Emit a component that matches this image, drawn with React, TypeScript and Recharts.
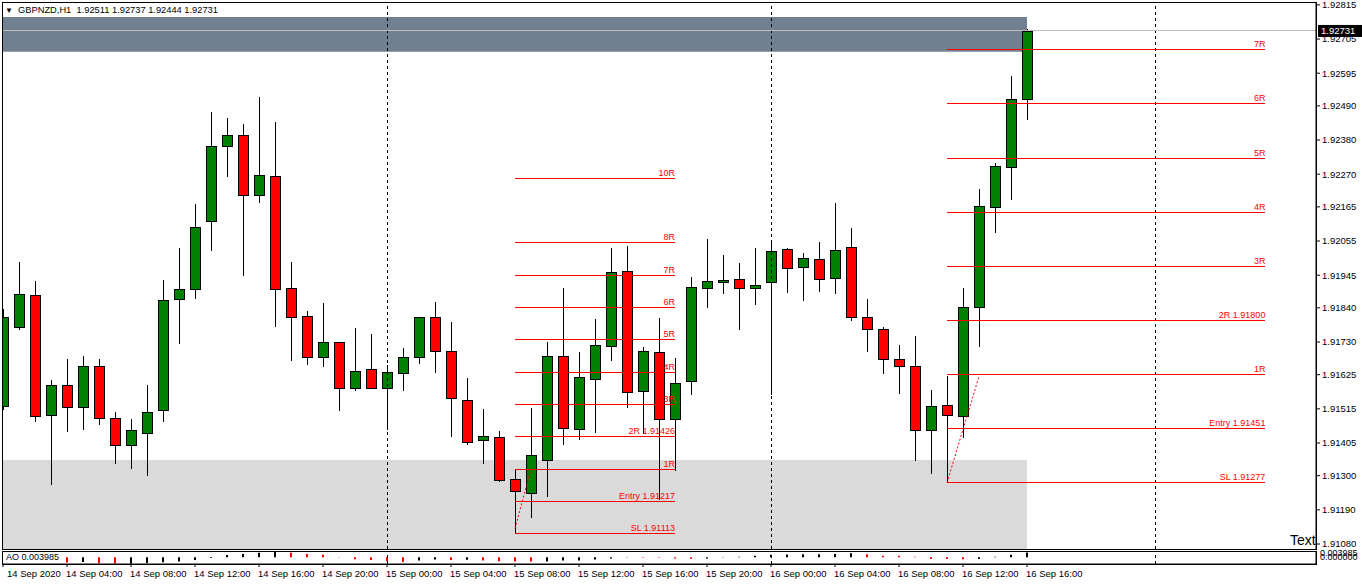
import React from "react";
import {
  ComposedChart,
  Bar,
  Cell,
  XAxis,
  YAxis,
  ReferenceLine,
  ReferenceArea,
} from "recharts";

const FONT = "'Liberation Sans', Arial, sans-serif";
const GREEN = "#008000";
const RED = "#FF0000";

const symbol = "GBPNZD,H1";

// H1 bars, 14 Sep 2020 00:00 -> 16 Sep 2020 16:00
const opens = [
  1.91524, 1.91778, 1.9188, 1.91495, 1.91593, 1.9152, 1.91654, 1.91485, 1.91398, 1.91437,
  1.9151, 1.91869, 1.91902, 1.92119, 1.9236, 1.92395, 1.92203, 1.92263, 1.91905, 1.91814,
  1.91681, 1.91731, 1.91581, 1.91642, 1.91581, 1.91629, 1.91683, 1.91809, 1.917, 1.91545,
  1.91414, 1.91424, 1.91289, 1.91244, 1.9135, 1.91686, 1.91449, 1.9161, 1.91718, 1.91959,
  1.91572, 1.91699, 1.91481, 1.91604, 1.91905, 1.91924, 1.91934, 1.91905, 1.91924, 1.9203,
  1.91972, 1.91998, 1.91937, 1.92037, 1.91809, 1.91773, 1.91677, 1.91654, 1.91446, 1.91526,
  1.91492, 1.91844, 1.92165, 1.92293, 1.92511,
];
const highs = [
  1.91835, 1.91987, 1.91928, 1.91607, 1.91675, 1.91684, 1.91675, 1.91505, 1.91482, 1.91591,
  1.91931, 1.92031, 1.92175, 1.92469, 1.92451, 1.92432, 1.92518, 1.92437, 1.91987, 1.91831,
  1.91855, 1.91731, 1.91774, 1.91755, 1.91655, 1.9171, 1.91812, 1.9186, 1.91796, 1.91614,
  1.91514, 1.91443, 1.91317, 1.91518, 1.9173, 1.91903, 1.91698, 1.91803, 1.92034, 1.9204,
  1.91715, 1.91806, 1.91679, 1.9194, 1.9206, 1.92011, 1.91983, 1.92031, 1.9205, 1.92034,
  1.92015, 1.92053, 1.92179, 1.92098, 1.91867, 1.91778, 1.91719, 1.91748, 1.91575, 1.91621,
  1.91903, 1.92223, 1.92306, 1.92585, 1.92737,
];
const lows = [
  1.91512, 1.9177, 1.91474, 1.91269, 1.91442, 1.91448, 1.91464, 1.91336, 1.9132, 1.91298,
  1.91474, 1.91724, 1.91869, 1.92022, 1.9226, 1.91942, 1.92176, 1.91779, 1.91669, 1.91656,
  1.91651, 1.91509, 1.91573, 1.91581, 1.91448, 1.91573, 1.9166, 1.91631, 1.91426, 1.91398,
  1.91336, 1.9128, 1.91113, 1.91164, 1.91232, 1.91398, 1.91414, 1.91437, 1.91669, 1.91517,
  1.91433, 1.91221, 1.91315, 1.91561, 1.9184, 1.91884, 1.91769, 1.91849, 1.91561, 1.91888,
  1.91861, 1.91892, 1.91884, 1.91797, 1.91699, 1.91626, 1.91564, 1.91348, 1.91304, 1.91277,
  1.91421, 1.91715, 1.9208, 1.92186, 1.92444,
];
const closes = [
  1.9181, 1.91883, 1.91493, 1.91593, 1.9152, 1.91654, 1.91485, 1.91398, 1.91446, 1.91506,
  1.91866, 1.91902, 1.921, 1.9236, 1.92395, 1.92203, 1.92267, 1.91902, 1.91812, 1.91681,
  1.91731, 1.91581, 1.91638, 1.91581, 1.91632, 1.91683, 1.91809, 1.917, 1.91549, 1.91408,
  1.91427, 1.91285, 1.91251, 1.91366, 1.91686, 1.91453, 1.91616, 1.91722, 1.91955, 1.91568,
  1.91702, 1.91481, 1.91598, 1.91907, 1.91927, 1.9193, 1.91905, 1.91914, 1.92022, 1.91969,
  1.92001, 1.91934, 1.92026, 1.91812, 1.91773, 1.91677, 1.91654, 1.91446, 1.91524, 1.91494,
  1.91842, 1.92167, 1.92295, 1.92511, 1.92731,
];

// Awesome Oscillator
const aoValues: (number | null)[] = [
  null, null, null, null, -0.00448, -0.00392, -0.00504, -0.00532, -0.00518, -0.00476,
  -0.0042, -0.00364, -0.00224, -0.00056, 0.00196, 0.0028, 0.00392, 0.00448, 0.00392, 0.0028,
  0.00224, 0.00028, -0.00168, -0.00224, -0.00336, -0.00392, -0.0028, -0.00196, -0.00224, -0.0021,
  -0.0028, -0.00336, -0.0035, -0.00364, -0.0035, -0.0028, -0.00266, -0.00196, -0.00112, -0.00028,
  -0.00034, -0.00042, -0.00112, -0.00126, -0.00112, -0.00028, 0.00056, 0.0014, 0.00224, 0.00238,
  0.00252, 0.00266, 0.0028, 0.00336, 0.00252, 0.0014, 0.00126, 0.00056, -0.0014, -0.00154,
  -0.00168, -0.0014, 0.00056, 0.00224, 0.003985,
];

const timeTicks = [0, 4, 8, 12, 16, 20, 24, 28, 32, 36, 40, 44, 48, 52, 56, 60, 64];
const timeLabels = [
  "14 Sep 2020", "14 Sep 04:00", "14 Sep 08:00", "14 Sep 12:00", "14 Sep 16:00", "14 Sep 20:00",
  "15 Sep 00:00", "15 Sep 04:00", "15 Sep 08:00", "15 Sep 12:00", "15 Sep 16:00", "15 Sep 20:00",
  "16 Sep 00:00", "16 Sep 04:00", "16 Sep 08:00", "16 Sep 12:00", "16 Sep 16:00",
];
const daySeparators = [24, 48, 72];
const priceTicks = [
  1.9108, 1.9119, 1.913, 1.91405, 1.91515, 1.91625, 1.9173, 1.9184, 1.91945, 1.92055,
  1.92165, 1.9227, 1.9238, 1.9249, 1.92595, 1.92705, 1.92815,
];
const aoTicks = [0, 0.003985];

// zones: [fromBar, toBar, lowPrice, highPrice]
const supplyZone = [-2, 64, 1.92664, 1.92776];
const demandZone = [-2, 64, 1.9099, 1.9135];

// trade setup A (15 Sep 08:00)
const setupASpan = [32, 42];
const setupALabels = ["SL 1.91113", "Entry 1.91217", "1R", "2R 1.91426", "3R", "4R", "5R", "6R", "7R", "8R", "10R"];
const setupAPrices = [1.91113, 1.91217, 1.91321, 1.91426, 1.91529, 1.91633, 1.91737, 1.91841, 1.91945, 1.92049, 1.92257];
const setupATrend = [[32, 1.9113], [33, 1.91321]];

// trade setup B (16 Sep 11:00)
const setupBSpan = [59, 78.9];
const setupBLabels = ["SL 1.91277", "Entry 1.91451", "1R", "2R 1.91800", "3R", "4R", "5R", "6R", "7R"];
const setupBPrices = [1.91277, 1.91451, 1.91625, 1.918, 1.91974, 1.92148, 1.92322, 1.92496, 1.9267];
const setupBTrend = [[59, 1.91277], [61, 1.9162]];

const X_DOMAIN: [number, number] = [-0.0625, 82.0625];
const Y_DOMAIN: [number, number] = [1.91064, 1.92821];

const rows = opens.map((o, i) => ({
  i,
  open: o,
  high: highs[i],
  low: lows[i],
  close: closes[i],
  range: [lows[i], highs[i]],
  ao: aoValues[i],
}));

const last = rows[rows.length - 1];

function Candle(props: any) {
  const { x, y, width, height, payload } = props;
  if (!payload || x == null) return null;
  const { open, high, low, close } = payload;
  const top = Math.min(y, y + height);
  const h = Math.abs(height);
  const toY = (p: number) => (high === low ? top : top + ((high - p) / (high - low)) * h);
  const cx = Math.round(x + width / 2) + 0.5;
  const bTop = Math.round(toY(Math.max(open, close)));
  const bBot = Math.round(toY(Math.min(open, close)));
  return (
    <g shapeRendering="crispEdges">
      <line x1={cx} x2={cx} y1={top} y2={top + h} stroke="#000" strokeWidth={1} />
      <rect
        x={cx - 5}
        y={bTop + 0.5}
        width={10}
        height={Math.max(bBot - bTop, 1)}
        fill={close >= open ? GREEN : RED}
        stroke="#000"
        strokeWidth={1}
      />
    </g>
  );
}

const levelLabel = (text: string) => (props: any) => {
  const vb = props.viewBox;
  if (!vb) return null;
  return (
    <text x={vb.x + vb.width} y={vb.y - 2.5} textAnchor="end" fontSize={9} fontFamily={FONT} fill={RED}>
      {text}
    </text>
  );
};

const priceTag = (props: any) => {
  const vb = props.viewBox;
  if (!vb) return null;
  return (
    <g>
      <rect x={vb.x + vb.width + 2} y={vb.y - 6} width={46} height={12} fill="#000" />
      <text x={vb.x + vb.width + 5} y={vb.y + 3.5} fontSize={9.5} fontFamily={FONT} fill="#fff">
        {last.close.toFixed(5)}
      </text>
    </g>
  );
};

function TimeTick(props: any) {
  const { x, y, payload, index } = props;
  const k = timeTicks.indexOf(payload.value);
  return (
    <text x={x + (index === 0 ? 4 : -1)} y={y + 8} fontSize={9.5} fontFamily={FONT} fill="#000">
      {timeLabels[k]}
    </text>
  );
}

function renderSetup(span: number[], labels: string[], prices: number[], trend: number[][], key: string) {
  const out = prices.map((p, k) => (
    <ReferenceLine
      key={`${key}-${k}`}
      segment={[{ x: span[0], y: p }, { x: span[1], y: p }]}
      stroke={RED}
      strokeWidth={1}
      shapeRendering="crispEdges"
      label={levelLabel(labels[k])}
    />
  ));
  out.push(
    <ReferenceLine
      key={`${key}-trend`}
      segment={[{ x: trend[0][0], y: trend[0][1] }, { x: trend[1][0], y: trend[1][1] }]}
      stroke={RED}
      strokeWidth={1}
      strokeDasharray="2 2"
    />
  );
  return out;
}

export default function App() {
  return (
    <div style={{ position: "fixed", left: 0, top: 0, width: 1362, height: 585, background: "#fff", overflow: "hidden", fontFamily: FONT }}>
      <div style={{ position: "absolute", left: 0, top: 0 }}>
        <ComposedChart width={1362} height={550} data={rows} margin={{ top: 3, right: 0, bottom: 1, left: 2 }}>
          <XAxis type="number" dataKey="i" domain={X_DOMAIN} allowDataOverflow hide />
          <YAxis
            orientation="right"
            type="number"
            domain={Y_DOMAIN}
            allowDataOverflow
            ticks={priceTicks}
            interval={0}
            width={46}
            tickSize={4}
            tickMargin={2}
            tickFormatter={(v: number) => v.toFixed(5)}
            tick={{ fontSize: 9.5, fill: "#000", fontFamily: FONT }}
            axisLine={{ stroke: "#000" }}
            tickLine={{ stroke: "#000" }}
          />
          <ReferenceArea
            x1={supplyZone[0]}
            x2={supplyZone[1]}
            y1={supplyZone[2]}
            y2={supplyZone[3]}
            fill="#708090"
            fillOpacity={1}
            stroke="none"
            ifOverflow="hidden"
          />
          <ReferenceArea
            x1={demandZone[0]}
            x2={demandZone[1]}
            y1={demandZone[2]}
            y2={demandZone[3]}
            fill="#DADADA"
            fillOpacity={1}
            stroke="none"
            ifOverflow="hidden"
          />
          {daySeparators.map((d) => (
            <ReferenceLine key={d} x={d} stroke="#000" strokeDasharray="3 3" shapeRendering="crispEdges" />
          ))}
          <ReferenceLine y={last.close} stroke="#C0C0C0" shapeRendering="crispEdges" label={priceTag} />
          {renderSetup(setupASpan, setupALabels, setupAPrices, setupATrend, "a")}
          {renderSetup(setupBSpan, setupBLabels, setupBPrices, setupBTrend, "b")}
          <Bar dataKey="range" barSize={10} isAnimationActive={false} shape={<Candle />} />
        </ComposedChart>
      </div>

      <div style={{ position: "absolute", left: 0, top: 549 }}>
        <ComposedChart width={1362} height={36} data={rows} margin={{ top: 3, right: 0, bottom: 0, left: 2 }}>
          <XAxis
            type="number"
            dataKey="i"
            domain={X_DOMAIN}
            allowDataOverflow
            ticks={timeTicks}
            interval={0}
            height={21}
            tickSize={3}
            axisLine={{ stroke: "#000" }}
            tickLine={{ stroke: "#000" }}
            tick={<TimeTick />}
          />
          <YAxis
            orientation="right"
            type="number"
            domain={[-0.0057, 0.0045]}
            allowDataOverflow
            ticks={aoTicks}
            interval={0}
            width={46}
            tickSize={0}
            tickMargin={4}
            tickFormatter={(v: number) => v.toFixed(6)}
            tick={{ fontSize: 9, fill: "#000", fontFamily: FONT }}
            axisLine={{ stroke: "#000" }}
          />
          {daySeparators.map((d) => (
            <ReferenceLine key={d} x={d} stroke="#000" strokeDasharray="3 3" shapeRendering="crispEdges" />
          ))}
          <Bar dataKey="ao" barSize={2} isAnimationActive={false}>
            {rows.map((r, i) => {
              const prev = i > 0 ? aoValues[i - 1] : null;
              const up = prev != null && r.ao != null && r.ao > prev;
              return <Cell key={i} fill={up ? "#000" : RED} />;
            })}
          </Bar>
        </ComposedChart>
      </div>

      {/* panel frames */}
      <div style={{ position: "absolute", left: 2, top: 2, width: 1315, height: 548, border: "1px solid #000", boxSizing: "border-box", pointerEvents: "none" }} />
      <div style={{ position: "absolute", left: 2, top: 551, width: 1315, height: 14, border: "1px solid #000", boxSizing: "border-box", pointerEvents: "none" }} />

      <div style={{ position: "absolute", left: 5, top: 4, fontSize: 9.3, lineHeight: "12px", color: "#000", whiteSpace: "pre" }}>
        <span style={{ fontSize: 8 }}>▼</span>
        {`  ${symbol}  ${last.open.toFixed(5)} ${last.high.toFixed(5)} ${last.low.toFixed(5)} ${last.close.toFixed(5)}`}
      </div>
      <div style={{ position: "absolute", left: 6, top: 552, fontSize: 9, lineHeight: "11px", color: "#000", whiteSpace: "pre" }}>
        {`AO ${last.ao}`}
      </div>
      <div style={{ position: "absolute", left: 1290, top: 532, fontSize: 14, lineHeight: "16px", color: "#000" }}>Text</div>
    </div>
  );
}
